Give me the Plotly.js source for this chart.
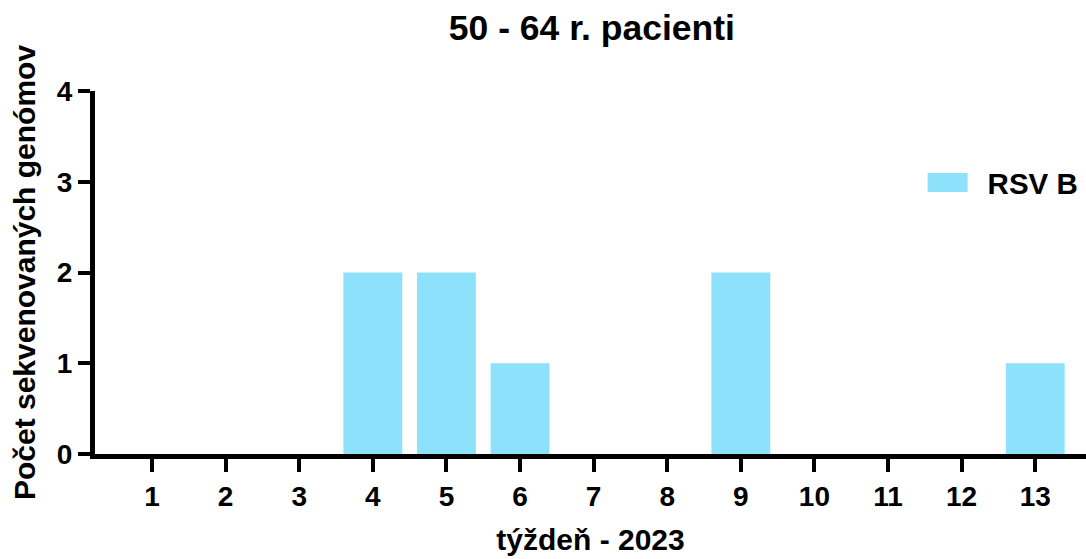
<!DOCTYPE html>
<html>
<head>
<meta charset="utf-8">
<script src="https://cdn.plot.ly/plotly-3.0.1.min.js"></script>
<style>html,body{margin:0;padding:0;background:#fff;}#chart{width:1086px;height:559px;}</style>
</head>
<body>
<div id="chart"></div>
<script>
const weeks = [1,2,3,4,5,6,7,8,9,10,11,12,13];
const weekLabels = ["1","2","3","4","5","6","7","8","9","10","11","12","13"];
const rsvB = [0,0,0,2,2,1,0,0,2,0,0,0,1];
const seriesName = "RSV B";
const chartTitle = "50 - 64 r. pacienti";
const xTitle = "týždeň - 2023";
const yTitle = "Počet sekvenovaných genómov";
const yTicks = [0,1,2,3,4];

const FONT = "Liberation Sans, Arial, sans-serif";
const BARCOLOR = "#8DE1FA";

const trace = {
  type: "bar",
  x: weeks,
  y: rsvB,
  name: seriesName,
  marker: {color: BARCOLOR, line: {width: 0}},
  showlegend: true,
  hoverinfo: "x+y"
};

const layout = {
  width: 1086, height: 559,
  margin: {l: 95, r: 0, t: 91, b: 105},
  paper_bgcolor: "#fff", plot_bgcolor: "#fff",
  font: {family: FONT, color: "#000", size: 28, weight: "bold"},
  title: {text: "<b>" + chartTitle + "</b>", font: {family: FONT, size: 35.5, color: "#000"},
          x: 0.545, xref: "container", xanchor: "center", y: 0.95, yref: "container", yanchor: "middle"},
  bargap: 0.2,
  xaxis: {
    range: [0.225, 13.69], tickmode: "array", tickvals: weeks, ticktext: weekLabels,
    showline: true, linecolor: "#000", linewidth: 5, ticks: "outside", ticklen: 13, tickwidth: 4, tickcolor: "#000",
    showgrid: false, zeroline: false, fixedrange: true,
    tickfont: {family: FONT, size: 28, color: "#000", weight: "bold"},
    title: {text: "<b>" + xTitle + "</b>", font: {family: FONT, size: 30, color: "#000"}, standoff: 20}
  },
  yaxis: {
    range: [0, 4], tickmode: "array", tickvals: yTicks,
    showline: true, linecolor: "#000", linewidth: 5, ticks: "outside", ticklen: 12, tickwidth: 4, tickcolor: "#000",
    showgrid: false, zeroline: false, fixedrange: true,
    tickfont: {family: FONT, size: 28, color: "#000", weight: "bold"},
    title: {text: "<b>" + yTitle + "</b>", font: {family: FONT, size: 30, color: "#000"}, standoff: 14}
  },
  showlegend: true,
  legend: {x: 0.82, xanchor: "left", y: 0.747, yanchor: "middle", bgcolor: "rgba(0,0,0,0)",
           font: {family: FONT, size: 29.5, color: "#000", weight: "bold"}, itemwidth: 70, borderwidth: 0}
};

Plotly.newPlot("chart", [trace], layout, {displayModeBar: false, staticPlot: true}).then(function(gd){
  // enlarge legend swatch to match reference
  const pts = gd.querySelectorAll(".legend .legendpoints path");
  pts.forEach(function(p){ p.setAttribute("d", "M20,9.5H-20V-9.5H20Z"); });
});
</script>
</body>
</html>
